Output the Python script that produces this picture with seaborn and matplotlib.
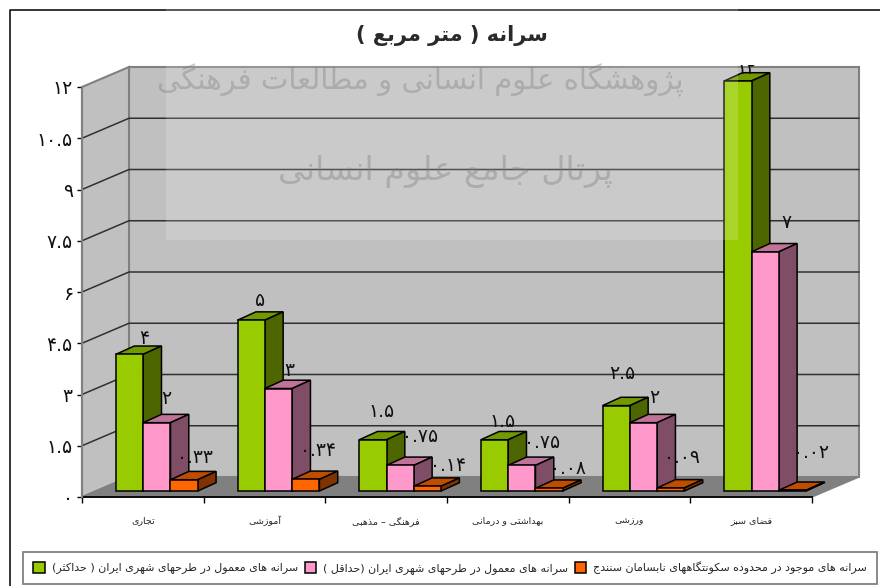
import matplotlib
matplotlib.use('Agg')
import matplotlib.pyplot as plt
from matplotlib.colors import to_hex
from matplotlib.lines import Line2D
from matplotlib.patches import Polygon, Rectangle
from matplotlib.transforms import Bbox
import pandas as pd
import seaborn as sns

categories = ['تجاری', 'آموزشی', 'فرهنگی – مذهبی', 'بهداشتی و درمانی', 'ورزشی', 'فضای سبز']
series_max = [4, 5, 1.5, 1.5, 2.5, 12]
series_min = [2, 3, 0.75, 0.75, 2, 7]
series_now = [0.33, 0.34, 0.14, 0.08, 0.09, 0.02]
labels_max = ['۴', '۵', '۱.۵', '۱.۵', '۲.۵', '۱۲']
labels_min = ['۲', '۳', '۰.۷۵', '۰.۷۵', '۲', '۷']
labels_now = ['۰.۳۳', '۰.۳۴', '۰.۱۴', '۰.۰۸', '۰.۰۹', '۰.۰۲']
name_max = 'سرانه های معمول در طرحهای شهری ایران ( حداکثر)'
name_min = 'سرانه های معمول در طرحهای شهری ایران (حداقل )'
name_now = 'سرانه های موجود در محدوده سکونتگاههای نابسامان سنندج'
title = 'سرانه ( متر مربع )'
yticks = [0, 1.5, 3, 4.5, 6, 7.5, 9, 10.5, 12]
ytick_labels = ['۰', '۱.۵', '۳', '۴.۵', '۶', '۷.۵', '۹', '۱۰.۵', '۱۲']

# matplotlib has no arabic shaping, so map to presentation forms and reverse
FORMS = {'ا': (0xFE8D, 2), 'آ': (0xFE81, 2), 'ب': (0xFE8F, 4), 'پ': (0xFB56, 4), 'ت': (0xFE95, 4),
         'ج': (0xFE9D, 4), 'ح': (0xFEA1, 4), 'خ': (0xFEA5, 4), 'د': (0xFEA9, 2), 'ذ': (0xFEAB, 2),
         'ر': (0xFEAD, 2), 'ز': (0xFEAF, 2), 'ژ': (0xFB8A, 2), 'س': (0xFEB1, 4), 'ش': (0xFEB5, 4),
         'ض': (0xFEBD, 4), 'ط': (0xFEC1, 4), 'ع': (0xFEC9, 4), 'ف': (0xFED1, 4), 'ق': (0xFED5, 4),
         'ک': (0xFB8E, 4), 'گ': (0xFB92, 4), 'ل': (0xFEDD, 4), 'م': (0xFEE1, 4), 'ن': (0xFEE5, 4),
         'و': (0xFEED, 2), 'ه': (0xFEE9, 4), 'ی': (0xFBFC, 4), 'ث': (0xFE99, 4)}


def fa(text):
    out = []
    for i, c in enumerate(text):
        if c not in FORMS:
            out.append({'(': ')', ')': '('}.get(c, c))
            continue
        start, n = FORMS[c]
        before = i > 0 and text[i - 1] in FORMS and FORMS[text[i - 1]][1] == 4
        after = i < len(text) - 1 and text[i + 1] in FORMS and n == 4
        if before and after:
            k = 3
        elif before:
            k = 1
        elif after:
            k = 2
        else:
            k = 0
        out.append(chr(start + k))
    return ''.join(reversed(out))


W, H = 880, 586
sns.set_theme(style='white')
plt.rcParams['font.family'] = ['DejaVu Sans']

df = pd.DataFrame({
    'cat': [fa(c) for c in categories] * 3,
    'value': series_max + series_min + series_now,
    'series': [fa(name_max)] * 6 + [fa(name_min)] * 6 + [fa(name_now)] * 6,
})

fig = plt.figure(figsize=(W / 100, H / 100), dpi=100)
ax = fig.add_axes([82 / W, 1 - 497 / H, 730 / W, 410 / H])
ax.patch.set_alpha(0)

sns.barplot(data=df, x='cat', y='value', hue='series', width=0.673, gap=0, errorbar=None,
            palette=['#99CC00', '#FF99CC', '#FF6600'], saturation=1, edgecolor='black', linewidth=1.1, ax=ax)
handles, names = ax.get_legend_handles_labels()
ax.get_legend().remove()
bars = sorted([p for p in ax.patches if p.get_height() > 0], key=lambda p: p.get_x())

ax.set_xlim(-0.5, 5.5)
ax.set_ylim(0, 12)
px_x = 730 / 6
px_y = 410 / 12

# depth of the box, bar depth and where the bars stand on the floor
DX, DY = 47 / px_x, 20 / px_y
BX, BY = 18.3 / px_x, 8.3 / px_y
SX, SY = 14 / px_x, 6 / px_y

wall = '#C0C0C0'
edge = '#808080'
ax.add_patch(Polygon([(-.5 + DX, DY), (5.5 + DX, DY), (5.5 + DX, 12 + DY), (-.5 + DX, 12 + DY)],
                     fc=wall, ec=edge, lw=1.5, clip_on=False, zorder=0.5))
ax.add_patch(Polygon([(-.5, 0), (-.5, 12), (-.5 + DX, 12 + DY), (-.5 + DX, DY)],
                     fc=wall, ec=edge, lw=1.5, clip_on=False, zorder=0.6))
ax.add_patch(Polygon([(-.5, 0), (5.5, 0), (5.5 + DX, DY), (-.5 + DX, DY)],
                     fc=edge, ec=edge, lw=1, clip_on=False, zorder=0.7))
for v in yticks[1:-1]:
    ax.plot([-.5, -.5 + DX, 5.5 + DX], [v, v + DY, v + DY], color='#303030', lw=1.1, clip_on=False, zorder=0.8)

# bars: move front face onto the floor, then add top and side
shades = {'#99CC00': ('#739900', '#4D6600'), '#FF99CC': ('#BF7399', '#804D66'), '#FF6600': ('#BF4D00', '#803300')}
label_list = [labels_max[i // 3] if i % 3 == 0 else labels_min[i // 3] if i % 3 == 1 else labels_now[i // 3]
              for i in range(18)]
# pixel nudges of the value labels from the bar's top centre (right, down)
nudges = [(15, -16), (9.5, -24), (11, -22), (9, -20), (11, -18.5), (12.5, -29),
          (8.5, -28), (20, -29), (21, -21), (8, -18), (20.5, -23), (19, -20),
          (6, -32), (11, -25), (11.5, -30), (8.5, -13), (21, -29), (19, -38)]
for i, p in enumerate(bars):
    x0 = p.get_x() + SX
    w = p.get_width()
    h = p.get_height()
    p.set_x(x0)
    p.set_y(SY)
    p.set_clip_on(False)
    z = 2 + i * 0.1
    p.set_zorder(z)
    top, side = shades[to_hex(p.get_facecolor()).upper()]
    ax.add_patch(Polygon([(x0, SY + h), (x0 + w, SY + h), (x0 + w + BX, SY + h + BY), (x0 + BX, SY + h + BY)],
                         fc=top, ec='black', lw=1.1, clip_on=False, zorder=z - 0.02))
    ax.add_patch(Polygon([(x0 + w, SY), (x0 + w + BX, SY + BY), (x0 + w + BX, SY + h + BY), (x0 + w, SY + h)],
                         fc=side, ec='black', lw=1.1, clip_on=False, zorder=z - 0.02))
    ann = ax.annotate(label_list[i], xy=(x0 + w / 2, SY + h), xytext=(nudges[i][0], -nudges[i][1]),
                      textcoords='offset pixels', ha='center', va='center', fontsize=13.5, color='#101010',
                      zorder=5, annotation_clip=False)
    if h == 12:
        ann.set_clip_on(True)
        ann.set_clip_box(Bbox([[0, 0], [W, H - 65]]))

# axes
ax.set_yticks(yticks)
ax.set_yticklabels(ytick_labels, fontsize=13.5, color='#101010')
ax.tick_params(axis='y', length=3.6, width=1, color='black', pad=3, left=True)
ax.set_xticks(range(6))
ax.tick_params(axis='x', which='major', length=0, pad=13.5, labelsize=6.8, labelcolor='#222222')
ax.set_xticks([i - 0.5 for i in range(7)], minor=True)
ax.tick_params(axis='x', which='minor', length=4.5, width=1, color='black', bottom=True)
ax.set_xlabel('')
ax.set_ylabel('')
for s in ['top', 'right']:
    ax.spines[s].set_visible(False)
ax.spines['left'].set_color(edge)
ax.spines['left'].set_linewidth(1.5)
ax.spines['bottom'].set_color('black')
ax.spines['bottom'].set_linewidth(1.3)
ax.spines['bottom'].set_zorder(1.5)

fig.text(452 / W, 1 - 35 / H, fa(title), ha='center', va='center', fontsize=15, fontweight='bold', color='black')

leg = fig.legend(handles, names, loc='center', bbox_to_anchor=(450 / W, 1 - 568 / H), ncol=3, fontsize=8,
                 frameon=True, fancybox=False, framealpha=1, edgecolor=edge, handlelength=1.05, handleheight=1.05,
                 handletextpad=0.6, columnspacing=0.6, borderpad=0.9, borderaxespad=0)
leg.get_frame().set_linewidth(1.3)

# outer frame of the chart area
fig.add_artist(Line2D([9.5 / W, 9.5 / W, 1], [0, 1 - 9.5 / H, 1 - 9.5 / H], color='black', lw=1.1, zorder=1))

# pale panel and watermark lying over the page
fig.add_artist(Rectangle((166 / W, 1 - 240 / H), 572 / W, 240 / H, fc='white', alpha=0.17, ec='none', zorder=6))
fig.text(420 / W, 1 - 80 / H, fa('پژوهشگاه علوم انسانی و مطالعات فرهنگی'), ha='center', va='center', fontsize=21,
         color='#808080', alpha=0.4, zorder=7)
fig.text(445 / W, 1 - 172 / H, fa('پرتال جامع علوم انسانی'), ha='center', va='center', fontsize=24,
         color='#808080', alpha=0.4, zorder=7)

fig.savefig('out.png', dpi=100)
